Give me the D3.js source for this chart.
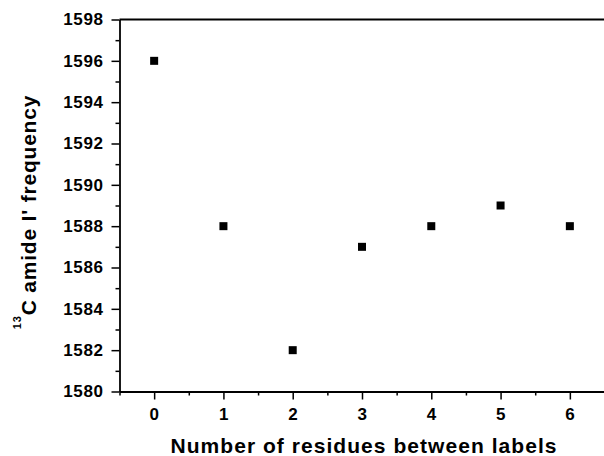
<!DOCTYPE html>
<html>
<head>
<meta charset="utf-8">
<script src="https://cdn.jsdelivr.net/npm/d3@7"></script>
<style>
  body { margin: 0; background: #fff; }
  svg { display: block; }
  text { font-family: "Liberation Sans", Arial, sans-serif; font-weight: bold; fill: #000; }
</style>
</head>
<body>
<div id="chart"></div>
<script>
"use strict";

var residues = [0, 1, 2, 3, 4, 5, 6];
var frequency = [1596, 1588, 1582, 1587, 1588, 1589, 1588];
var xTicks = [0, 1, 2, 3, 4, 5, 6];
var yTicks = [1580, 1582, 1584, 1586, 1588, 1590, 1592, 1594, 1596, 1598];

var W = 604, H = 456;
var m = {left: 119.5, right: 604.5, top: 19.5, bottom: 391.5};

var svg = d3.select('#chart').append('svg')
  .attr('width', W)
  .attr('height', H);

var x = d3.scaleLinear().domain([-0.5, 6.5]).range([m.left, m.right]);
var y = d3.scaleLinear().domain([1580, 1598]).range([m.bottom, m.top]);

// minor ticks
var xMinor = d3.range(-0.5, 6.6, 1);
var yMinor = d3.range(1581, 1598, 2);

svg.append('g')
  .attr('transform', 'translate(0,' + m.bottom + ')')
  .call(d3.axisBottom(x).tickValues(xMinor).tickSize(4).tickFormat(''))
  .call((g) => g.select('.domain').remove());

svg.append('g')
  .attr('transform', 'translate(' + m.left + ',0)')
  .call(d3.axisLeft(y).tickValues(yMinor).tickSize(4).tickFormat(''))
  .call((g) => g.select('.domain').remove());

var xAxis = svg.append('g')
  .attr('transform', 'translate(0,' + m.bottom + ')')
  .call(d3.axisBottom(x).tickValues(xTicks).tickSize(8).tickPadding(8).tickSizeOuter(0).tickFormat(d3.format('d')));

var yAxis = svg.append('g')
  .attr('transform', 'translate(' + m.left + ',0)')
  .call(d3.axisLeft(y).tickValues(yTicks).tickSize(8).tickPadding(8).tickSizeOuter(0).tickFormat(d3.format('d')));

svg.selectAll('.tick line').attr('stroke', '#000').attr('stroke-width', 1.5);
svg.selectAll('.domain').attr('stroke', '#000').attr('stroke-width', 1.8);
svg.selectAll('.tick text')
  .style('font-size', '17px')
  .style('letter-spacing', '0.6px')
  .style('font-family', '"Liberation Sans", Arial, sans-serif')
  .style('font-weight', 'bold');

// top frame line
svg.append('line')
  .attr('x1', m.left).attr('x2', m.right)
  .attr('y1', m.top).attr('y2', m.top)
  .attr('stroke', '#000').attr('stroke-width', 1.8);

// points
var s = 8;
svg.selectAll('rect.pt')
  .data(residues)
  .enter()
    .append('rect')
      .attr('class', 'pt')
      .attr('x', (d) => x(d) - s / 2)
      .attr('y', (d, i) => y(frequency[i]) - s / 2)
      .attr('width', s)
      .attr('height', s)
      .attr('fill', '#000');

// axis titles
svg.append('text')
  .attr('x', 364)
  .attr('y', 453)
  .attr('text-anchor', 'middle')
  .style('font-size', '21px')
  .style('letter-spacing', '1.05px')
  .text('Number of residues between labels');

var yt = svg.append('text')
  .attr('transform', 'translate(36,212) rotate(-90)')
  .attr('text-anchor', 'middle')
  .style('font-size', '21px')
  .style('letter-spacing', '0.8px');
yt.append('tspan').attr('dy', '-15px').style('font-size', '11px').text('13');
yt.append('tspan').attr('dy', '15px').text("C amide I' frequency");
</script>
</body>
</html>
